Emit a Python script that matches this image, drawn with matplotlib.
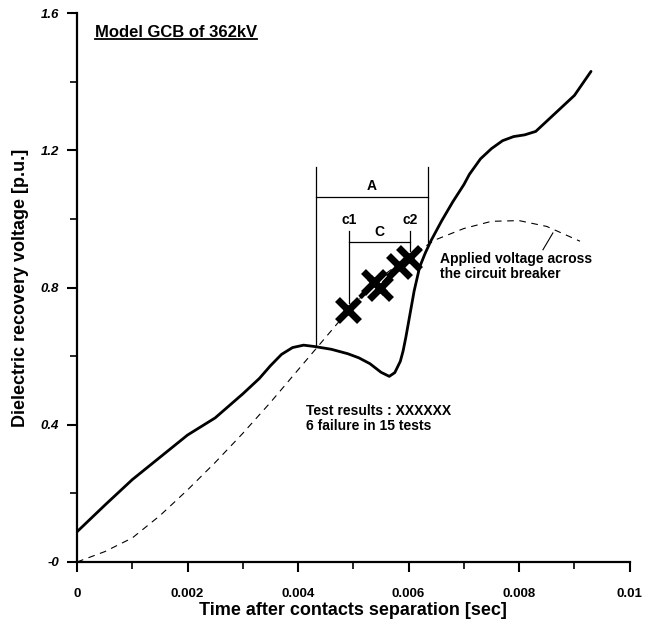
import matplotlib
matplotlib.use("Agg")
import matplotlib.pyplot as plt
from matplotlib.lines import Line2D

plt.rcParams["font.family"] = ["Liberation Sans", "DejaVu Sans"]
plt.rcParams["font.weight"] = "bold"
plt.rcParams["axes.labelweight"] = "bold"

# dielectric recovery voltage (solid curve)
t_recovery = [0, 0.0005, 0.001, 0.0015, 0.002, 0.0025, 0.003, 0.0033, 0.0035,
              0.0037, 0.0039, 0.0041, 0.0043, 0.0046, 0.0049, 0.0051, 0.0053,
              0.0055, 0.00565, 0.00575, 0.00585, 0.0059, 0.00595, 0.006,
              0.0061, 0.0062, 0.0063, 0.0064, 0.0066, 0.0068, 0.007, 0.0071,
              0.0073, 0.0075, 0.0077, 0.0079, 0.0081, 0.0083, 0.0085, 0.0087,
              0.009, 0.0093]
v_recovery = [0.088, 0.165, 0.24, 0.305, 0.37, 0.42, 0.49, 0.535, 0.572,
              0.605, 0.625, 0.632, 0.628, 0.62, 0.607, 0.595, 0.578,
              0.553, 0.541, 0.552, 0.585, 0.615, 0.655, 0.70,
              0.79, 0.86, 0.90, 0.935, 0.995, 1.05, 1.10, 1.13,
              1.175, 1.205, 1.228, 1.24, 1.245, 1.255, 1.285, 1.315,
              1.36, 1.43]

# applied voltage across the breaker (dashed curve)
t_applied = [0, 0.0005, 0.001, 0.0015, 0.002, 0.0025, 0.003, 0.0035, 0.004,
             0.0045, 0.005, 0.0055, 0.006, 0.0065, 0.007, 0.0075, 0.008,
             0.0085, 0.0091]
v_applied = [0.0, 0.03, 0.07, 0.135, 0.21, 0.29, 0.375, 0.465, 0.56,
             0.655, 0.75, 0.83, 0.89, 0.94, 0.972, 0.993, 0.995,
             0.978, 0.935]

# test failures (crosses)
t_fail = [0.00491, 0.00538, 0.00548, 0.00583, 0.00600]
v_fail = [0.735, 0.815, 0.800, 0.862, 0.885]

fig = plt.figure(figsize=(6.58, 6.22), dpi=100)
ax = fig.add_axes([0.117, 0.0965, 0.84, 0.8825])

ax.plot(t_applied, v_applied, color="black", lw=0.8, ls=(0, (6, 5)))
ax.plot(t_recovery, v_recovery, color="black", lw=2.0,
        solid_capstyle="round", solid_joinstyle="round")
ax.plot(t_fail, v_fail, color="black", lw=3.5, ls=(0, (2, 1.5)))
ax.plot(t_fail, v_fail, ls="none", marker="x", ms=16, mew=5, color="black")

# A bracket
a_left, a_right = 0.00432, 0.00635
ax.plot([a_left, a_left], [0.627, 1.15], color="black", lw=0.9)
ax.plot([a_right, a_right], [0.92, 1.15], color="black", lw=0.9)
ax.plot([a_left, a_right], [1.065, 1.065], color="black", lw=0.9)
ax.text((a_left + a_right) / 2, 1.075, "A", ha="center", va="bottom", fontsize=10)

# C bracket
c1, c2 = 0.00492, 0.00603
ax.plot([c1, c1], [0.755, 0.965], color="black", lw=0.9)
ax.plot([c2, c2], [0.905, 0.965], color="black", lw=0.9)
ax.plot([c1, c2], [0.934, 0.934], color="black", lw=0.9)
ax.text((c1 + c2) / 2, 0.94, "C", ha="center", va="bottom", fontsize=10)
ax.text(c1, 0.975, "c1", ha="center", va="bottom", fontsize=10)
ax.text(c2, 0.975, "c2", ha="center", va="bottom", fontsize=10)

ax.text(0.00656, 0.86, "Applied voltage across\nthe circuit breaker",
        ha="left", va="center", fontsize=10, linespacing=1.1)
ax.plot([0.00843, 0.00861], [0.910, 0.959], color="black", lw=0.8)

ax.text(0.00415, 0.418, "Test results : XXXXXX\n6 failure in 15 tests",
        ha="left", va="center", fontsize=10, linespacing=1.1)

title = ax.text(0.00033, 1.542, "Model GCB of 362kV", ha="left", va="center",
                fontsize=12)

ax.set_xlim(0, 0.01)
ax.set_ylim(0, 1.6)
ax.set_xticks([0, 0.002, 0.004, 0.006, 0.008, 0.01])
ax.set_xticklabels(["0", "0.002", "0.004", "0.006", "0.008", "0.01"],
                   fontweight="bold")
ax.set_xticks([0.001, 0.003, 0.005, 0.007, 0.009], minor=True)
ax.set_yticks([0, 0.4, 0.8, 1.2, 1.6])
ax.set_yticklabels(["-0", "0.4", "0.8", "1.2", "1.6"], style="italic",
                   fontweight="bold")
ax.set_yticks([0.2, 0.6, 1.0, 1.4], minor=True)
ax.tick_params(which="major", length=7, width=1.5, labelsize=9.5, pad=6)
ax.tick_params(which="minor", length=5, width=1.2)
ax.tick_params(axis="x", pad=12)

for side in ["top", "right"]:
    ax.spines[side].set_visible(False)
for side in ["left", "bottom"]:
    ax.spines[side].set_linewidth(1.6)

ax.set_xlabel("Time after contacts separation [sec]", fontsize=13, labelpad=1)
ax.set_ylabel("Dielectric recovery voltage [p.u.]", fontsize=13, labelpad=8)

# underline the model title
fig.canvas.draw()
bb = title.get_window_extent().transformed(fig.transFigure.inverted())
fig.add_artist(Line2D([bb.x0, bb.x1], [bb.y0 + 0.002, bb.y0 + 0.002],
                      color="black", lw=1.3, transform=fig.transFigure))

fig.savefig("out.png", dpi=100)
